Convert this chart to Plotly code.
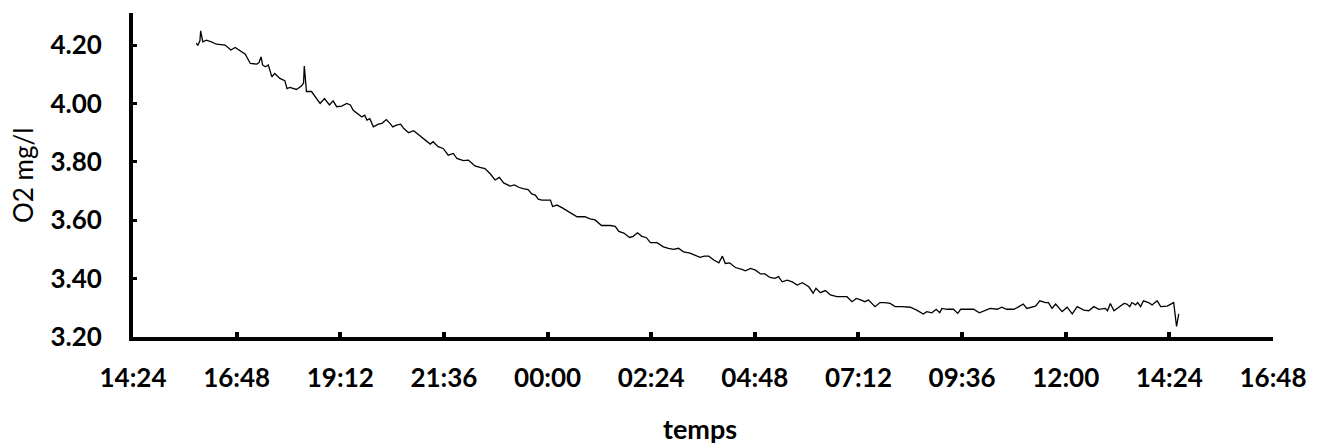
import plotly.graph_objects as go
from datetime import datetime, timedelta

# Clock times of the readings (the series runs past midnight into the next day)
times = [
    "15:52", "15:54", "15:57", "15:58", "16:01", "16:06", "16:13", "16:20", "16:32", "16:40",
    "16:46", "16:53", "17:00", "17:07", "17:16", "17:19", "17:22", "17:24", "17:28", "17:32",
    "17:37", "17:41", "17:48", "17:55", "17:58", "18:02", "18:07", "18:11", "18:18", "18:21",
    "18:22", "18:24", "18:25", "18:32", "18:39", "18:44", "18:50", "18:57", "19:02", "19:07",
    "19:14", "19:21", "19:26", "19:30", "19:42", "19:46", "19:49", "19:53", "19:58", "20:05",
    "20:10", "20:16", "20:21", "20:25", "20:30", "20:36", "20:40", "20:47", "20:54", "21:01",
    "21:07", "21:17", "21:21", "21:28", "21:35", "21:42", "21:49", "21:54", "22:03", "22:10",
    "22:15", "22:19", "22:26", "22:33", "22:40", "22:47", "22:53", "22:59", "23:08", "23:14",
    "23:20", "23:26", "23:33", "23:38", "23:43", "23:47", "23:52", "00:04", "00:07", "00:13",
    "00:20", "00:27", "00:34", "00:41", "00:52", "00:59", "01:06", "01:15", "01:27", "01:34",
    "01:39", "01:46", "01:54", "01:59", "02:05", "02:11", "02:17", "02:23", "02:32", "02:41",
    "02:48", "02:55", "03:02", "03:09", "03:18", "03:25", "03:32", "03:38", "03:44", "03:51",
    "03:58", "04:03", "04:07", "04:13", "04:21", "04:30", "04:35", "04:42", "04:49", "04:56",
    "05:02", "05:09", "05:16", "05:21", "05:26", "05:33", "05:40", "05:47", "05:54", "06:03",
    "06:09", "06:13", "06:19", "06:26", "06:33", "06:42", "06:56", "07:03", "07:09", "07:15",
    "07:21", "07:26", "07:35", "07:42", "07:49", "07:56", "08:03", "08:12", "08:24", "08:33",
    "08:42", "08:47", "08:54", "09:00", "09:05", "09:08", "09:15", "09:24", "09:30", "09:34",
    "09:43", "09:52", "10:00", "10:08", "10:15", "10:25", "10:31", "10:38", "10:48", "10:55",
    "11:01", "11:06", "11:13", "11:18", "11:24", "11:32", "11:36", "11:41", "11:46", "11:55",
    "12:02", "12:09", "12:16", "12:25", "12:32", "12:39", "12:46", "12:55", "12:58", "13:02",
    "13:07", "13:14", "13:21", "13:25", "13:29", "13:32", "13:37", "13:40", "13:44", "13:48",
    "13:55", "14:00", "14:07", "14:12", "14:21", "14:30", "14:32", "14:34", "14:37",
]

# Dissolved oxygen, mg/l
o2 = [
    4.207, 4.199, 4.215, 4.249, 4.211, 4.217, 4.211, 4.203, 4.200, 4.183,
    4.192, 4.180, 4.169, 4.137, 4.135, 4.140, 4.160, 4.132, 4.126, 4.132,
    4.091, 4.103, 4.086, 4.078, 4.051, 4.055, 4.051, 4.048, 4.060, 4.070,
    4.128, 4.063, 4.041, 4.041, 4.017, 4.000, 4.017, 3.995, 4.009, 3.989,
    3.991, 4.000, 3.995, 3.977, 3.954, 3.960, 3.943, 3.948, 3.920, 3.929,
    3.932, 3.945, 3.932, 3.920, 3.926, 3.929, 3.915, 3.900, 3.907, 3.892,
    3.880, 3.861, 3.869, 3.852, 3.846, 3.823, 3.829, 3.812, 3.804, 3.806,
    3.795, 3.786, 3.781, 3.777, 3.760, 3.738, 3.747, 3.728, 3.717, 3.721,
    3.713, 3.708, 3.705, 3.690, 3.686, 3.672, 3.669, 3.669, 3.647, 3.652,
    3.643, 3.632, 3.624, 3.612, 3.612, 3.605, 3.601, 3.582, 3.582, 3.579,
    3.562, 3.556, 3.541, 3.545, 3.557, 3.545, 3.541, 3.523, 3.523, 3.509,
    3.504, 3.500, 3.504, 3.492, 3.487, 3.481, 3.473, 3.477, 3.477, 3.464,
    3.454, 3.477, 3.452, 3.454, 3.438, 3.432, 3.427, 3.435, 3.429, 3.416,
    3.416, 3.404, 3.401, 3.407, 3.389, 3.395, 3.389, 3.378, 3.386, 3.372,
    3.350, 3.367, 3.352, 3.359, 3.344, 3.338, 3.338, 3.321, 3.332, 3.327,
    3.321, 3.327, 3.304, 3.318, 3.318, 3.315, 3.304, 3.304, 3.302, 3.292,
    3.279, 3.287, 3.283, 3.295, 3.283, 3.298, 3.295, 3.295, 3.281, 3.295,
    3.295, 3.295, 3.283, 3.292, 3.298, 3.295, 3.302, 3.295, 3.295, 3.304,
    3.313, 3.298, 3.304, 3.306, 3.324, 3.318, 3.318, 3.298, 3.313, 3.287,
    3.302, 3.279, 3.304, 3.292, 3.290, 3.304, 3.295, 3.298, 3.290, 3.315,
    3.290, 3.302, 3.315, 3.313, 3.304, 3.318, 3.310, 3.318, 3.304, 3.324,
    3.318, 3.310, 3.324, 3.304, 3.306, 3.318, 3.270, 3.236, 3.279,
]

y_ticks = [3.20, 3.40, 3.60, 3.80, 4.00, 4.20]

# Build datetimes, rolling over to the next day after midnight
day0 = datetime(2000, 1, 1)
stamps = []
offset = 0
prev = None
for t in times:
    h, m = map(int, t.split(":"))
    cur = h * 60 + m
    if prev is not None and cur < prev:
        offset += 1
    prev = cur
    stamps.append(day0 + timedelta(days=offset, hours=h, minutes=m))

x_start = day0 + timedelta(hours=14, minutes=24)
x_end = x_start + timedelta(hours=26, minutes=24)

FONT = "Lato"

fig = go.Figure(go.Scatter(
    x=stamps, y=o2, mode="lines",
    line=dict(color="black", width=1.3),
    showlegend=False, hoverinfo="x+y",
))

fig.update_layout(
    width=1318, height=446,
    margin=dict(l=133, r=45, t=13, b=109),
    paper_bgcolor="white", plot_bgcolor="white",
    font=dict(family=FONT, color="black"),
    xaxis=dict(
        type="date", range=[x_start, x_end],
        tick0=x_start, dtick=2.4 * 3600 * 1000, tickformat="%H:%M",
        showgrid=False, zeroline=False,
        showline=True, linecolor="black", linewidth=4,
        ticks="inside", ticklen=5, tickwidth=4, tickcolor="black",
        tickfont=dict(family=FONT, size=26, weight="bold", color="black"),
        ticklabelstandoff=15,
    ),
    yaxis=dict(
        range=[3.2, 4.31], tickvals=y_ticks,
        ticktext=[f"{v:.2f}" for v in y_ticks],
        showgrid=False, zeroline=False,
        showline=True, linecolor="black", linewidth=4,
        ticks="inside", ticklen=4, tickwidth=3, tickcolor="black",
        tickfont=dict(family=FONT, size=26, weight="bold", color="black"),
        ticklabelstandoff=22,
    ),
    annotations=[
        dict(text="O2 mg/l", xref="paper", yref="paper", x=-0.0965, y=0.5,
             textangle=-90, showarrow=False,
             font=dict(family=FONT, size=26, color="black"),
             xanchor="center", yanchor="middle"),
        dict(text="temps", xref="paper", yref="paper", x=0.497, y=-0.281,
             showarrow=False,
             font=dict(family=FONT, size=27, weight="bold", color="black"),
             xanchor="center", yanchor="middle"),
    ],
)

fig.write_html("out.html")
